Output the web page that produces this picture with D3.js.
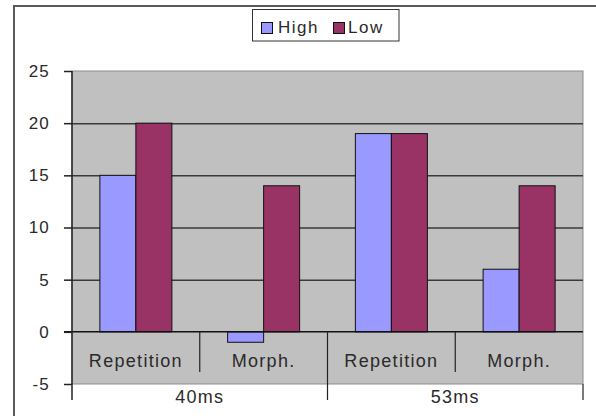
<!DOCTYPE html>
<html>
<head>
<meta charset="utf-8">
<script src="https://cdn.jsdelivr.net/npm/d3@7/dist/d3.min.js"></script>
<style>
  html, body { margin: 0; padding: 0; background: #ffffff; }
  svg { display: block; }
  text { font-family: "Liberation Sans", Arial, sans-serif; fill: #2a2a2a; }
</style>
</head>
<body>
<svg id="chart" width="596" height="416"></svg>
<script>
// Chart data
const groups = ["40ms", "53ms"];
const conditions = ["Repetition", "Morph."];
const seriesNames = ["High", "Low"];
const highValues = [15, -1, 19, 6];
const lowValues = [20, 14, 19, 14];
const yTickValues = [-5, 0, 5, 10, 15, 20, 25];
const seriesColors = ["#9999FF", "#993366"];

// One category per (group, condition) pair
const categories = [];
groups.forEach(g => conditions.forEach(c => categories.push({ group: g, cond: c, key: g + "|" + c })));
const rows = categories.map((c, i) => ({ ...c, values: [highValues[i], lowValues[i]] }));

const svg = d3.select("#chart");

// Outer chart frame
svg.append("rect")
  .attr("x", 14).attr("y", 6).attr("width", 600).attr("height", 420)
  .attr("fill", "#fff").attr("stroke", "#5a5a5a").attr("stroke-width", 2);

const plot = { left: 72, right: 583, top: 71, bottom: 384 };

const y = d3.scaleLinear().domain([-5, 25]).range([plot.bottom, plot.top]);
const x0 = d3.scaleBand().domain(categories.map(c => c.key)).range([plot.left, plot.right]);
const x1 = d3.scaleBand().domain(seriesNames).range([0, x0.bandwidth()]).paddingInner(0).paddingOuter(0.774);

// Plot background
svg.append("rect")
  .attr("x", plot.left).attr("y", plot.top)
  .attr("width", plot.right - plot.left).attr("height", plot.bottom - plot.top)
  .attr("fill", "#C0C0C0").attr("stroke", "#8c8c8c").attr("stroke-width", 1);

// Horizontal gridlines
const grid = svg.append("g")
  .attr("transform", `translate(${plot.left},0)`)
  .call(d3.axisLeft(y).tickValues([5, 10, 15, 20]).tickSize(-(plot.right - plot.left)).tickFormat(""));
grid.select(".domain").remove();
grid.selectAll("line").attr("stroke", "#3a3a3a").attr("stroke-width", 1.5);

// Bars
const catG = svg.append("g").selectAll("g")
  .data(rows).join("g")
  .attr("transform", d => `translate(${x0(d.key)},0)`);

catG.selectAll("rect")
  .data(d => d.values.map((v, i) => ({ name: seriesNames[i], value: v, color: seriesColors[i] })))
  .join("rect")
  .attr("x", d => x1(d.name))
  .attr("width", x1.bandwidth())
  .attr("y", d => y(Math.max(0, d.value)))
  .attr("height", d => Math.abs(y(d.value) - y(0)))
  .attr("fill", d => d.color)
  .attr("stroke", "#111").attr("stroke-width", 1);

// Zero line
svg.append("line")
  .attr("x1", plot.left - 8).attr("x2", plot.right)
  .attr("y1", y(0)).attr("y2", y(0))
  .attr("stroke", "#111").attr("stroke-width", 1.5);

// Value axis (plain hyphen for negatives)
const yAxis = svg.append("g")
  .attr("transform", `translate(${plot.left},0)`)
  .call(d3.axisLeft(y).tickValues(yTickValues).tickSize(8).tickPadding(14).tickFormat(d => String(d)));
yAxis.select(".domain").remove();
yAxis.selectAll("line").attr("stroke", "#222").attr("stroke-width", 1.5);
yAxis.selectAll("text")
  .attr("font-size", 17).attr("letter-spacing", 1.2)
  .style("font-family", '"Liberation Sans", Arial, sans-serif')
  .attr("fill", "#2a2a2a");

// Vertical axis line, extended down to the group label row
svg.append("line")
  .attr("x1", plot.left).attr("x2", plot.left)
  .attr("y1", plot.top).attr("y2", 400)
  .attr("stroke", "#222").attr("stroke-width", 1.5);
svg.append("line")
  .attr("x1", plot.right).attr("x2", plot.right)
  .attr("y1", plot.bottom).attr("y2", 400)
  .attr("stroke", "#222").attr("stroke-width", 1.2);

// Condition dividers and labels
const catAxis = svg.append("g");
categories.forEach((c, i) => {
  const left = x0(c.key);
  const center = left + x0.bandwidth() / 2;
  catAxis.append("text")
    .attr("x", center).attr("y", 367)
    .attr("text-anchor", "middle")
    .attr("font-size", 18).attr("letter-spacing", 1.3)
    .text(c.cond);
  if (i > 0) {
    const groupStart = c.cond === conditions[0];
    catAxis.append("line")
      .attr("x1", left).attr("x2", left)
      .attr("y1", y(0)).attr("y2", groupStart ? 400 : 372)
      .attr("stroke", "#222").attr("stroke-width", 1.2);
  }
});

// Group labels
groups.forEach(g => {
  const keys = categories.filter(c => c.group === g).map(c => c.key);
  const a = x0(keys[0]);
  const b = x0(keys[keys.length - 1]) + x0.bandwidth();
  svg.append("text")
    .attr("x", (a + b) / 2).attr("y", 403)
    .attr("text-anchor", "middle")
    .attr("font-size", 18).attr("letter-spacing", 1.3)
    .text(g);
});

// Legend
const legend = svg.append("g");
legend.append("rect")
  .attr("x", 252.5).attr("y", 9.5).attr("width", 146.5).attr("height", 31.5)
  .attr("fill", "#fff").attr("stroke", "#333").attr("stroke-width", 1);
const legendItems = [
  { name: seriesNames[0], color: seriesColors[0], sx: 261, tx: 278 },
  { name: seriesNames[1], color: seriesColors[1], sx: 333, tx: 348 }
];
legendItems.forEach(it => {
  legend.append("rect")
    .attr("x", it.sx + 0.5).attr("y", 22.5).attr("width", 11).attr("height", 11)
    .attr("fill", it.color).attr("stroke", "#111").attr("stroke-width", 1);
  legend.append("text")
    .attr("x", it.tx).attr("y", 33)
    .attr("font-size", 17).attr("letter-spacing", 1.5)
    .text(it.name);
});
</script>
</body>
</html>
